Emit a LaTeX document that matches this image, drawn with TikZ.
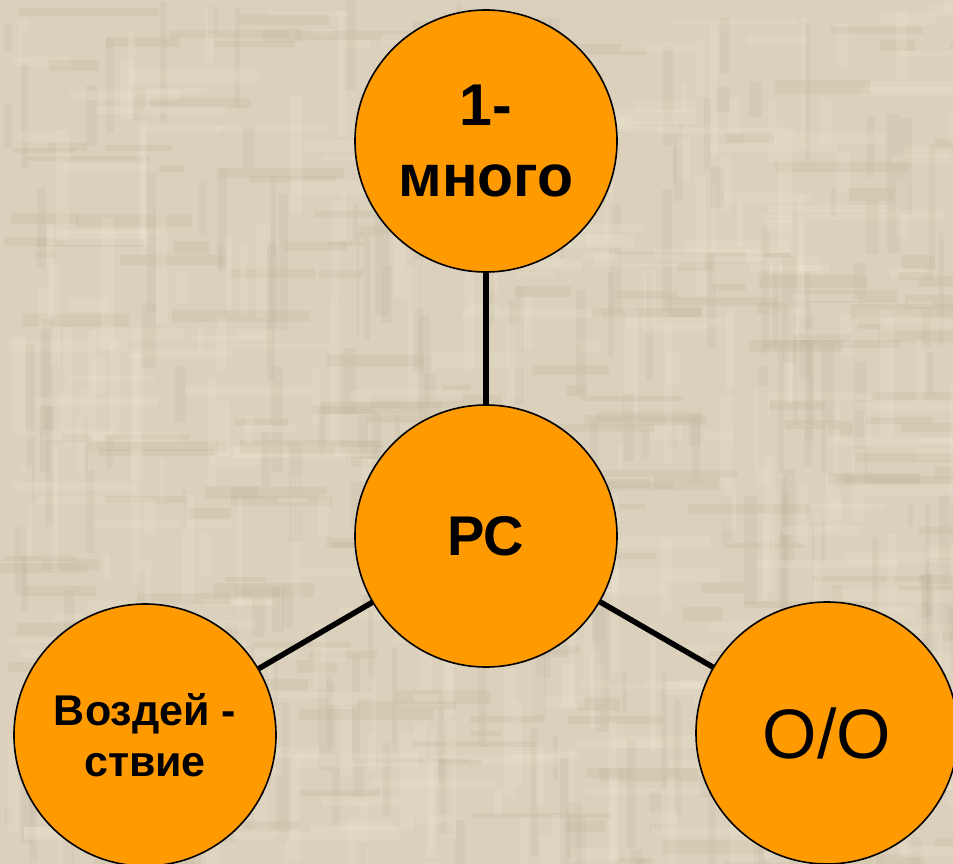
\documentclass[tikz,border=0pt]{standalone}
\usepackage{fontspec}
\setmainfont{Liberation Sans}
\usetikzlibrary{calc}
\definecolor{bgbeige}{HTML}{DAD0BB}
\definecolor{bgdark}{HTML}{B8AB92}
\definecolor{bglight}{HTML}{F0E8D6}
\definecolor{ballorange}{HTML}{FF9A00}
\tikzset{
  ball/.style={circle, draw=black, line width=1.6pt, fill=ballorange,
    minimum size=262pt, inner sep=0pt, align=center},
  link/.style={line width=5.5pt, black}
}

\begin{document}
\begin{tikzpicture}[x=1pt, y=-1pt]
			%%%%% START %%%%%
			\useasboundingbox (0, 0) rectangle (953, 864);
			\fill[bgbeige] (0, 0) rectangle (953, 864);
			
			% woven texture
			\pgfmathsetseed{11}
			\foreach \i in {1,...,200}{
				\pgfmathsetmacro\rx{random(0,953)}
				\pgfmathsetmacro\ry{random(0,864)}
				\pgfmathsetmacro\rl{random(20,140)}
				\pgfmathsetmacro\rw{random(5,14)}
				\fill[bgdark, opacity=0.16] (\rx, \ry) rectangle ++(\rl, \rw);
				\pgfmathsetmacro\rx{random(0,953)}
				\pgfmathsetmacro\ry{random(0,864)}
				\fill[bglight, opacity=0.22] (\rx, \ry) rectangle ++(\rl, \rw);
				\pgfmathsetmacro\rx{random(0,953)}
				\pgfmathsetmacro\ry{random(0,864)}
				\fill[bgdark, opacity=0.14] (\rx, \ry) rectangle ++(\rw, \rl);
				\pgfmathsetmacro\rx{random(0,953)}
				\pgfmathsetmacro\ry{random(0,864)}
				\fill[bglight, opacity=0.2] (\rx, \ry) rectangle ++(\rw, \rl);
			}
			
			\node[ball, font=\fontsize{59}{71}\selectfont\bfseries] (many) at (486, 141) {1-\\много};
			\node[ball, font=\fontsize{56}{67}\selectfont\bfseries] (rs) at (486, 536) {РС};
			\node[ball, font=\fontsize{43}{51}\selectfont\bfseries] (act) at (145, 735) {Воздей -\\ствие};
			\node[ball, font=\fontsize{70}{84}\selectfont] (oo) at (827, 733) {О/О};
			
			\draw[link] (rs) -- (many);
			\draw[link] (rs) -- (act);
			\draw[link] (rs) -- (oo);
			%%%%% END %%%%%
\end{tikzpicture}
\end{document}
